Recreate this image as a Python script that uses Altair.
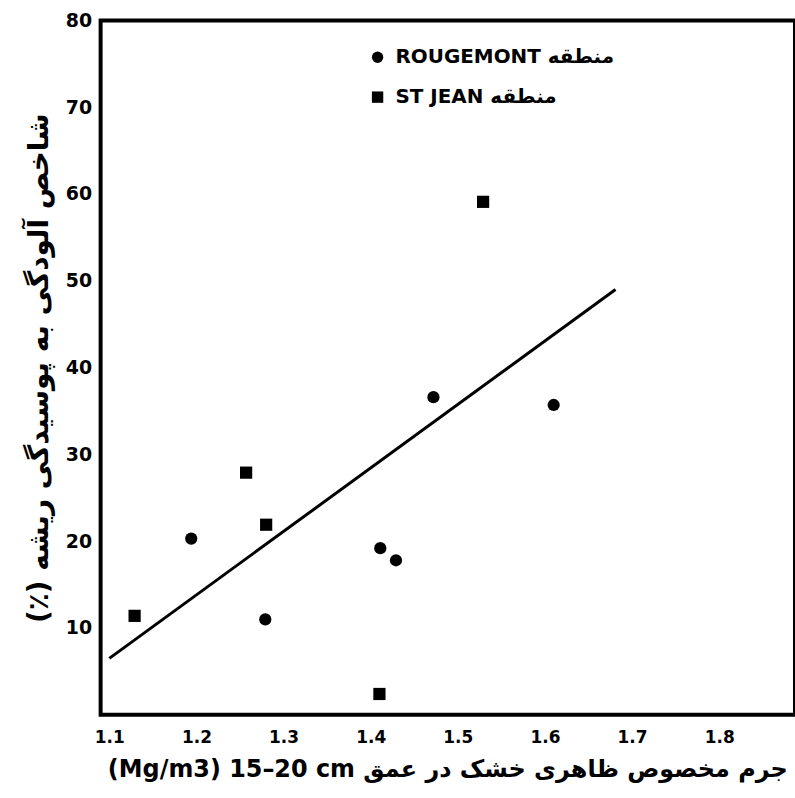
import altair as alt
import pandas as pd

# ST JEAN (squares)
stjean_x = [1.129, 1.257, 1.280, 1.410, 1.529]
stjean_y = [11.4, 27.9, 21.9, 2.4, 59.1]
# ROUGEMONT (circles)
rouge_x = [1.194, 1.279, 1.411, 1.429, 1.472, 1.610]
rouge_y = [20.3, 11.0, 19.2, 17.8, 36.6, 35.7]
# fitted line end points
line_x = [1.10, 1.681]
line_y = [6.5, 49.0]

x_ticks = [1.1, 1.2, 1.3, 1.4, 1.5, 1.6, 1.7, 1.8]
y_ticks = [10, 20, 30, 40, 50, 60, 70, 80]

lab_r = "ROUGEMONT منطقه"
lab_s = "ST JEAN منطقه"

pts = pd.DataFrame({
    "x": rouge_x + stjean_x,
    "y": rouge_y + stjean_y,
    "site": [lab_r] * len(rouge_x) + [lab_s] * len(stjean_x),
})
ln = pd.DataFrame({"x": line_x, "y": line_y})

xscale = alt.Scale(domain=[1.09, 1.887], nice=False, zero=False)
yscale = alt.Scale(domain=[0, 80], nice=False)

xaxis = alt.Axis(
    values=x_ticks, format=".1f", ticks=False, domain=False, grid=False,
    labelFont="DejaVu Sans", labelFontSize=17, labelFontWeight="bold", labelColor="black",
    labelPadding=15,
    title="(Mg/m3) 15–20 cm جرم مخصوص ظاهری خشک در عمق",
    titleFont="DejaVu Sans", titleFontSize=24, titleFontWeight="bold", titleColor="black",
    titlePadding=12, titleX=348, titleAnchor="middle",
)
yaxis = alt.Axis(
    values=y_ticks, ticks=False, domain=False, grid=False,
    labelFont="DejaVu Sans", labelFontSize=19, labelFontWeight="bold", labelColor="black",
    labelPadding=9,
    title="(٪) شاخص آلودگی به پوسیدگی ریشه",
    titleFont="DejaVu Sans", titleFontSize=28, titleFontWeight="bold", titleColor="black",
    titlePadding=12,
)

points = alt.Chart(pts).mark_point(filled=True, opacity=1, color="black", size=150).encode(
    x=alt.X("x:Q", scale=xscale, axis=xaxis),
    y=alt.Y("y:Q", scale=yscale, axis=yaxis),
    shape=alt.Shape("site:N", scale=alt.Scale(domain=[lab_r, lab_s], range=["circle", "square"]),
                    legend=alt.Legend(title=None, orient="none", legendX=268, legendY=27,
                                      labelFont="DejaVu Sans", labelFontSize=20, labelFontWeight="bold",
                                      labelColor="black", symbolSize=130, symbolFillColor="black",
                                      symbolStrokeColor="black", rowPadding=20, labelOffset=8,
                                      padding=0, labelLimit=400)),
)

line = alt.Chart(ln).mark_line(color="black", strokeWidth=3).encode(
    x=alt.X("x:Q", scale=xscale),
    y=alt.Y("y:Q", scale=yscale),
)

chart = alt.layer(line, points).properties(
    width=697, height=697,
    autosize="none",
    padding={"left": 101, "top": 19, "right": 0, "bottom": 82},
    background="white",
).configure_view(stroke="black", strokeWidth=4)

chart.save("out.html", embed_options={"renderer": "svg", "actions": False})
